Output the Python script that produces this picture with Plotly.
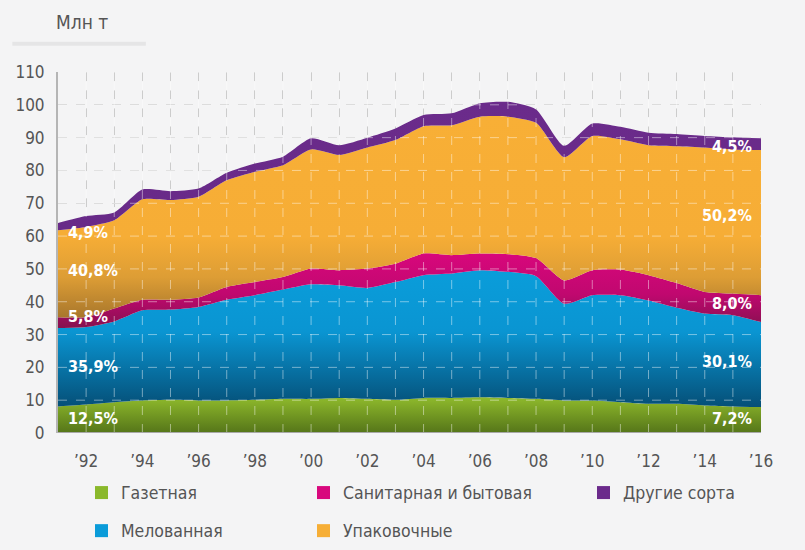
import plotly.graph_objects as go

# years on the x axis
years = list(range(1991, 2017))

# Млн т, per paper grade
newsprint = [8.1, 8.7, 9.4, 9.9, 10.1, 9.9, 9.9, 10.1, 10.4, 10.4, 10.7, 10.4, 10.1,
             10.7, 10.7, 10.9, 10.7, 10.4, 9.9, 9.9, 9.4, 8.9, 8.9, 8.4, 8.1, 7.9]
coated = [23.9, 23.6, 24.6, 27.5, 27.5, 28.5, 30.7, 31.9, 33.3, 34.9, 34.3, 33.8, 35.9,
          37.4, 37.9, 38.7, 38.4, 37.4, 29.5, 32.1, 32.6, 31.5, 29.3, 28.0, 27.8, 25.9]
tissue = [3.3, 3.0, 3.9, 3.2, 3.0, 2.9, 3.9, 4.0, 3.8, 4.8, 4.6, 5.9, 5.6,
          6.6, 5.6, 5.1, 5.4, 5.5, 7.1, 7.6, 7.8, 7.7, 7.5, 6.6, 6.6, 8.2]
packaging = [26.5, 27.5, 26.9, 30.6, 30.4, 30.7, 32.5, 33.6, 34.1, 36.3, 35.1, 36.9, 37.7,
             38.8, 39.6, 41.7, 41.9, 41.2, 37.5, 40.9, 39.7, 39.6, 41.7, 44.0, 43.9, 44.2]
other = [2.2, 3.3, 2.4, 3.0, 2.7, 2.5, 2.3, 2.5, 2.6, 3.4, 3.0, 3.0, 3.5,
         3.4, 3.6, 4.1, 4.5, 4.1, 3.5, 3.8, 3.8, 3.8, 3.7, 3.5, 3.7, 3.6]

names = ["Газетная", "Мелованная", "Санитарная и бытовая", "Упаковочные", "Другие сорта"]
shares_1991 = ["12,5%", "35,9%", "5,8%", "40,8%", "4,9%"]
shares_2016 = ["7,2%", "30,1%", "8,0%", "50,2%", "4,5%"]

tick_years = list(range(1992, 2017, 2))
tick_text = ["’%02d" % (y % 100) for y in tick_years]
y_ticks = list(range(0, 111, 10))

FONT = "DejaVu Sans Condensed, Liberation Sans Narrow, Roboto, sans-serif"
BG = "#f4f4f5"

swatch = ["#8ab82b", "#0a9bd9", "#d8087d", "#f6ae36", "#6b2a8b"]
gradients = [
    [[0, "#557519"], [1, "#8fba2c"]],
    [[0, "#054f77"], [0.55, "#0a95d2"], [1, "#0a9dda"]],
    [[0, "#86114f"], [0.45, "#c0086f"], [1, "#d8077c"]],
    [[0, "#a8772c"], [0.2, "#dd9d35"], [0.4, "#f6ad36"], [1, "#f8af36"]],
    [[0, "#682a88"], [1, "#6b2b8b"]],
]

# legend under the chart: column / row of each grade (paper coords)
legend_x = [0.0526, 0.0526, 0.3684, 0.3684, 0.7667]
legend_y = [-0.165, -0.2705, -0.165, -0.2705, -0.165]
SW = 0.0185   # swatch width (paper x)
SH = 0.018    # half swatch height (paper y)

fig = go.Figure()

series = [newsprint, coated, tissue, packaging, other]
for i, vals in enumerate(series):
    fig.add_trace(go.Scatter(x=years, y=vals, stackgroup="one", mode="none",
                             name=names[i],
                             line=dict(shape="spline", smoothing=0.6),
                             fillcolor=swatch[i],
                             fillgradient=dict(type="vertical", colorscale=gradients[i]),
                             showlegend=False, hoverinfo="skip"))

shapes = []
# white dashed grid on top of the areas
for y in y_ticks[1:-1]:
    shapes.append(dict(type="line", xref="x", yref="y", x0=years[0], x1=years[-1],
                       y0=y, y1=y, layer="above",
                       line=dict(color="rgba(255,255,255,0.45)", width=1, dash="dash")))
for x in years[1:-1]:
    shapes.append(dict(type="line", xref="x", yref="y", x0=x, x1=x, y0=0, y1=110,
                       layer="above",
                       line=dict(color="rgba(255,255,255,0.45)", width=1, dash="dash")))
# shadow under the unit title
shapes.append(dict(type="line", xref="paper", yref="paper", x0=-0.065, x1=0.125,
                   y0=1.078, y1=1.078,
                   line=dict(color="rgba(0,0,0,0.06)", width=4)))

annos = []
# legend swatches and names
for i in range(5):
    shapes.append(dict(type="rect", xref="paper", yref="paper",
                       x0=legend_x[i], x1=legend_x[i] + SW,
                       y0=legend_y[i] - SH, y1=legend_y[i] + SH,
                       fillcolor=swatch[i], line=dict(width=0)))
    annos.append(dict(xref="paper", yref="paper", x=legend_x[i] + SW + 0.016,
                      y=legend_y[i], text=names[i], xanchor="left", yanchor="middle",
                      showarrow=False,
                      font=dict(size=17.5, color="#555555", family=FONT)))

# percent labels at both ends of the bands
label_y_left = [4.4, 20.3, 35.5, 49.5, 61.2]
label_y_right = [4.4, 21.8, 39.5, 66.4, 87.2]
for i in range(5):
    annos.append(dict(x=years[0] + 0.3, y=label_y_left[i], text="<b>%s</b>" % shares_1991[i],
                      xanchor="left", yanchor="middle", showarrow=False,
                      font=dict(size=16, color="white", family=FONT)))
    annos.append(dict(x=years[-1] - 0.25, y=label_y_right[i], text="<b>%s</b>" % shares_2016[i],
                      xanchor="right", yanchor="middle", showarrow=False,
                      font=dict(size=16, color="white", family=FONT)))
annos.append(dict(xref="paper", yref="paper", x=-0.005, y=1.139, text="Млн т",
                  xanchor="left", yanchor="middle", showarrow=False,
                  font=dict(size=19, color="#555555", family=FONT)))

fig.update_layout(
    width=805, height=550,
    margin=dict(l=58, r=44, t=72, b=117),
    paper_bgcolor=BG, plot_bgcolor=BG,
    font=dict(family=FONT, color="#555555"),
    showlegend=False,
    shapes=shapes, annotations=annos,
    xaxis=dict(range=[years[0], years[-1]], tickvals=tick_years, ticktext=tick_text,
               showgrid=True, gridcolor="#cccccc", griddash="dash", gridwidth=1,
               minor=dict(tick0=1991, dtick=1, showgrid=True, gridcolor="#cccccc",
                          griddash="dash"),
               zeroline=False, showline=False, ticks="", ticklabelstandoff=16,
               tickfont=dict(size=17, color="#555555"), fixedrange=True),
    yaxis=dict(range=[0, 110], tickvals=y_ticks, showgrid=True, gridcolor="#cccccc",
               griddash="dash", zeroline=False, showline=True, linecolor="#b5b5b5",
               linewidth=2, ticks="", ticklabelstandoff=8,
               tickfont=dict(size=17, color="#555555"), fixedrange=True),
)
fig.add_hline(y=0, line=dict(color="#a8a8a8", width=2), layer="above")

fig.write_html("out.html", config={"displayModeBar": False},
               post_script="document.body.style.margin='0';"
                           "document.body.style.background='%s';" % BG)
